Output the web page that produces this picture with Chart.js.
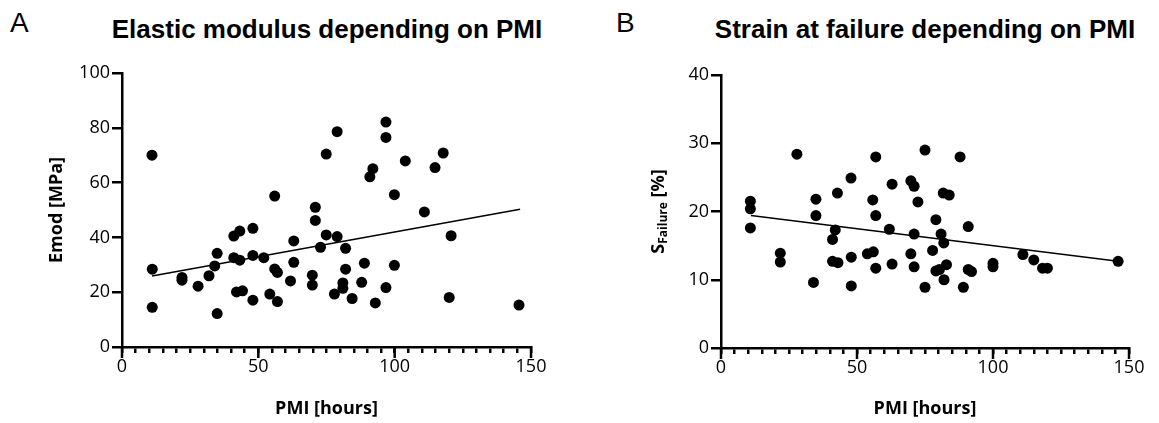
<!DOCTYPE html>
<html>
<head>
<meta charset="utf-8">
<script src="https://cdn.jsdelivr.net/npm/chart.js@4.4.1/dist/chart.umd.min.js"></script>
<style>
body{margin:0;background:#fff;width:1159px;height:423px;overflow:hidden;position:relative;font-family:"Liberation Sans",Arial,sans-serif;color:#000}
.panel{position:absolute;top:0;height:423px}
.letter{position:absolute;font-size:28px;line-height:28px;top:9px}
.title{position:absolute;font-weight:bold;font-size:26px;line-height:26px;top:16px;white-space:nowrap;transform:translateX(-50%)}
</style>
</head>
<body>
<div class="letter" style="left:10px">A</div>
<div class="title" style="left:327px">Elastic modulus depending on PMI</div>
<div class="letter" style="left:616px">B</div>
<div class="title" style="left:925px">Strain at failure depending on PMI</div>
<div class="panel" style="left:0;width:580px"><canvas id="chartA"></canvas></div>
<div class="panel" style="left:600px;width:559px"><canvas id="chartB"></canvas></div>
<script>
// PMI [hours] vs Emod [MPa]
var pmiA = [11, 11.1, 11.1, 22, 22, 27.9, 31.9, 34, 34.9, 34.9, 41, 43.2, 48, 41, 43.2, 48, 52, 42, 44.2, 48,
            54.2, 57, 56, 57, 61.8, 63, 63, 56, 70.9, 70.9, 69.8, 69.8, 72.8, 74.9, 78.9, 82, 82, 81, 81, 77.9,
            84.4, 87.9, 88.9, 92.9, 96.8, 99.9, 99.9, 90.9, 92, 74.9, 78.9, 96.8, 96.8, 103.9, 114.8, 117.8, 110.9, 120.7, 120, 145.6];
var emod = [70, 28.4, 14.5, 25.4, 24.4, 22.2, 26, 29.6, 34.2, 12.2, 40.5, 42.3, 43.3, 32.6, 31.7, 33.4, 32.6, 20.1, 20.5, 17.1,
            19.3, 16.6, 28.5, 27.2, 24.1, 38.7, 30.9, 55.1, 51, 46.2, 26.2, 22.6, 36.4, 40.9, 40.3, 36, 28.4, 23.4, 21.4, 19.3,
            17.7, 23.6, 30.6, 16.1, 21.7, 29.8, 55.6, 62.1, 65.1, 70.4, 78.6, 82.1, 76.5, 67.9, 65.5, 70.8, 49.3, 40.6, 18.1, 15.3];
var fitAx = [11, 146];
var fitAy = [25.9, 50.3];

// PMI [hours] vs strain at failure [%]
var pmiB = [10.8, 10.8, 10.8, 21.8, 21.8, 27.9, 34, 34.9, 34.9, 42.8, 42, 41, 41, 43, 47.8, 47.9, 47.9, 53.8, 56, 56.9,
            56.9, 55.8, 56.9, 61.9, 62.9, 62.9, 69.8, 71, 72.4, 69.8, 71, 71, 75, 79, 80.9, 81.9, 77.8, 82.9, 79, 80.3,
            82, 75, 81.7, 83.9, 87.9, 90.9, 90.9, 92.1, 89.1, 100, 100, 111, 115, 118.2, 120, 146];
var strain = [21.5, 20.4, 17.6, 13.9, 12.6, 28.4, 9.6, 21.8, 19.4, 22.7, 17.3, 15.9, 12.7, 12.5, 24.9, 13.3, 9.1, 13.8, 14.1, 11.7,
              19.4, 21.7, 28, 17.4, 12.3, 24, 24.5, 23.7, 21.4, 13.8, 11.9, 16.7, 29, 18.8, 16.7, 15.4, 14.3, 12.2, 11.3, 11.5,
              10, 8.9, 22.7, 22.4, 28, 17.8, 11.5, 11.2, 8.9, 12.4, 11.9, 13.7, 12.9, 11.7, 11.7, 12.7];
var fitBx = [11, 146];
var fitBy = [19.4, 12.7];

var xLabels = [0, 50, 100, 150];

Chart.defaults.font.family = "'Open Sans', sans-serif";
Chart.defaults.color = '#000';

function toPoints(xs, ys) {
    var pts = [];
    for (var i in xs) {
        pts.push({x: xs[i], y: ys[i]});
    }
    return pts;
}

// longer tick marks at the labelled x values
var majorTicks = {
    id: 'majorTicks',
    afterDraw: function (chart) {
        var sx = chart.scales.x;
        var ctx = chart.ctx;
        ctx.save();
        ctx.strokeStyle = '#000';
        ctx.lineWidth = 2.5;
        xLabels.forEach(function (v) {
            var px = sx.getPixelForValue(v);
            ctx.beginPath();
            ctx.moveTo(px, sx.top);
            ctx.lineTo(px, sx.top + 11);
            ctx.stroke();
        });
        ctx.restore();
    }
};

// y title with subscript for panel B
var subTitle = {
    id: 'subTitle',
    afterDraw: function (chart) {
        var ctx = chart.ctx;
        var a = chart.chartArea;
        var big = "bold 18px 'Open Sans'";
        var small = "bold 12px 'Open Sans'";
        ctx.save();
        ctx.translate(59, (a.top + a.bottom) / 2);
        ctx.rotate(-Math.PI / 2);
        ctx.fillStyle = '#000';
        ctx.textBaseline = 'middle';
        ctx.textAlign = 'left';
        ctx.font = big;
        var w1 = ctx.measureText('S').width;
        var w3 = ctx.measureText(' [%]').width;
        ctx.font = small;
        var w2 = ctx.measureText('Failure').width;
        var x0 = -(w1 + w2 + w3) / 2;
        ctx.font = big;
        ctx.fillText('S', x0, 0);
        ctx.font = small;
        ctx.fillText('Failure', x0 + w1, 5);
        ctx.font = big;
        ctx.fillText(' [%]', x0 + w1 + w2, 0);
        ctx.restore();
    }
};

function makeChart(id, xs, ys, fx, fy, yMax, yStep, yTitle, pad, yWidth, xHeight, extra) {
    var plugins = [majorTicks];
    if (extra) plugins.push(extra);
    return new Chart(document.getElementById(id), {
        type: 'scatter',
        data: {
            datasets: [{
                data: toPoints(xs, ys),
                backgroundColor: '#000',
                borderWidth: 0,
                pointRadius: 5.5,
                pointHoverRadius: 5.5,
                clip: false
            }, {
                type: 'line',
                data: toPoints(fx, fy),
                borderColor: '#000',
                borderWidth: 1.5,
                pointRadius: 0,
                fill: false
            }]
        },
        options: {
            responsive: true,
            maintainAspectRatio: false,
            animation: false,
            layout: {padding: pad},
            plugins: {legend: {display: false}, tooltip: {enabled: false}},
            scales: {
                x: {
                    type: 'linear',
                    min: 0,
                    max: 150,
                    ticks: {
                        stepSize: 5,
                        autoSkip: false,
                        maxRotation: 0,
                        padding: 3,
                        font: {size: 18},
                        callback: function (v) { return xLabels.indexOf(v) >= 0 ? v : ''; }
                    },
                    grid: {drawOnChartArea: false, tickLength: 6, color: '#000', lineWidth: 2.5},
                    border: {color: '#000', width: 2.5},
                    title: {display: true, text: 'PMI [hours]', font: {size: 18, weight: 'bold'}, padding: {top: 4, bottom: 3}},
                    afterFit: function (s) { s.height = xHeight; }
                },
                y: {
                    min: 0,
                    max: yMax,
                    ticks: {stepSize: yStep, padding: 2, font: {size: 18}},
                    grid: {drawOnChartArea: false, tickLength: 10, color: '#000', lineWidth: 2.5},
                    border: {color: '#000', width: 2.5},
                    title: {display: yTitle !== '', text: yTitle, font: {size: 18, weight: 'bold'}, padding: {top: 46, bottom: 0}},
                    afterFit: function (s) { s.width = yWidth; }
                }
            }
        },
        plugins: plugins
    });
}

makeChart('chartA', pmiA, emod, fitAx, fitAy, 100, 20, 'Emod [MPa]', {top: 73, right: 49, left: 0, bottom: 0}, 122, 76, null);
makeChart('chartB', pmiB, strain, fitBx, fitBy, 40, 10, '', {top: 75, right: 30, left: 0, bottom: 0}, 121, 75, subTitle);
</script>
</body>
</html>
